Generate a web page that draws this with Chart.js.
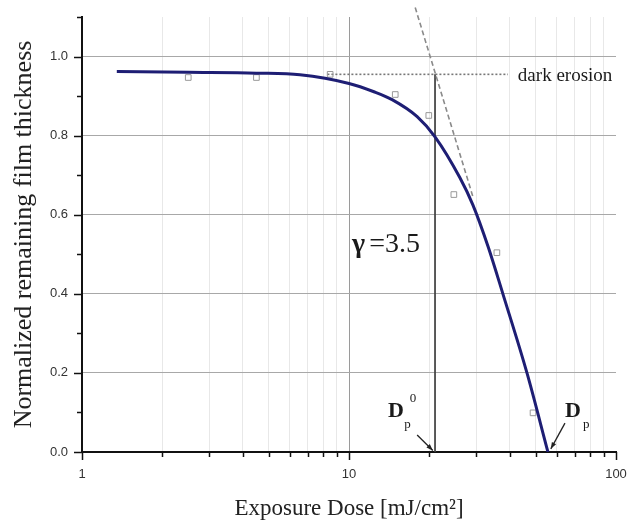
<!DOCTYPE html>
<html><head><meta charset="utf-8">
<script src="https://cdn.jsdelivr.net/npm/chart.js@4"></script>
<style>html,body{margin:0;padding:0;background:#fff}#wrap{width:628px;height:527px}</style>
</head><body><div id="wrap"><canvas id="c" width="628" height="527"></canvas></div>
<script>
// ---- data ----
const doseMeasured = [2.5, 4.5, 8.5, 14.9, 19.9, 24.7, 35.8, 48.9];
const thicknessMeasured = [0.947, 0.947, 0.955, 0.904, 0.851, 0.651, 0.504, 0.099];
const doseFit = [1.35, 2.5, 4.5, 6.55, 10.0, 12.4, 14.5, 18.0, 21.0, 26.0, 29.1, 33.2, 37.7, 46.4, 55.6];
const thicknessFit = [0.962, 0.960, 0.958, 0.954, 0.932, 0.911, 0.891, 0.848, 0.797, 0.694, 0.625, 0.519, 0.40, 0.2, 0.0];
const darkErosionDose = [8.3, 39.4];
const darkErosionLevel = [0.955, 0.955];
const contrastDose = [17.7, 29.1];
const contrastThickness = [1.124, 0.646];
const dp0Dose = [21.0, 21.0];
const dp0Thickness = [0.955, 0.0];
const xTickValues = [1,2,3,4,5,6,7,8,9,10,20,30,40,50,60,70,80,90,100];
const xTickLabels = {1:'1', 10:'10', 100:'100'};
const yTickValues = [0,0.1,0.2,0.3,0.4,0.5,0.6,0.7,0.8,0.9,1.0,1.1];
const yTickLabels = ['0.0','','0.2','','0.4','','0.6','','0.8','','1.0',''];

const pts = (xs, ys) => xs.map((x, i) => ({x, y: ys[i]}));
const isMajorY = v => Math.round(v * 10) % 2 === 0 && v < 1.05;
const isMajorX = v => v === 1 || v === 10 || v === 100;

const annot = {
  id: 'annot',
  afterDraw(chart) {
    const {ctx, scales: {x, y}} = chart;
    const X = v => x.getPixelForValue(v), Y = v => y.getPixelForValue(v);
    const area = chart.chartArea;
    ctx.save();
    // tick marks
    ctx.strokeStyle = '#111';
    ctx.lineWidth = 1.5;
    yTickValues.forEach(v => {
      const py = Math.round(Y(v)) + 0.5, len = isMajorY(v) ? 8 : 5;
      ctx.beginPath(); ctx.moveTo(area.left - len, py); ctx.lineTo(area.left, py); ctx.stroke();
    });
    xTickValues.forEach(v => {
      const px = Math.round(X(v)) + 0.5, len = isMajorX(v) ? 8 : 5;
      ctx.beginPath(); ctx.moveTo(px, area.bottom); ctx.lineTo(px, area.bottom + len); ctx.stroke();
    });
    ctx.fillStyle = '#1a1a1a';
    ctx.textAlign = 'left';
    // dark erosion label
    ctx.font = '19px "Liberation Serif", serif';
    ctx.textBaseline = 'middle';
    ctx.fillText('dark erosion', X(42.9), Y(0.951));
    ctx.textBaseline = 'alphabetic';
    // gamma
    ctx.font = 'bold 28px "Liberation Serif", serif';
    ctx.fillText('γ', X(10.26), Y(0.506));
    ctx.font = '28px "Liberation Serif", serif';
    ctx.fillText('=3.5', X(11.9), Y(0.506));
    // D_p^0 and D_p
    ctx.font = 'bold 22px "Liberation Serif", serif';
    ctx.fillText('D', X(14.0), Y(0.089));
    ctx.fillText('D', X(64.4), Y(0.089));
    ctx.font = '13px "Liberation Serif", serif';
    ctx.fillText('p', X(16.1), Y(0.06));
    ctx.fillText('0', X(16.9), Y(0.127));
    ctx.fillText('p', X(75.2), Y(0.06));
    // arrows
    const arrow = (x1, y1, x2, y2) => {
      const ax = X(x1), ay = Y(y1), bx = X(x2), by = Y(y2);
      ctx.strokeStyle = '#222'; ctx.lineWidth = 1.3;
      ctx.beginPath(); ctx.moveTo(ax, ay); ctx.lineTo(bx, by); ctx.stroke();
      const ang = Math.atan2(by - ay, bx - ax), h = 7, w = 0.35;
      ctx.beginPath();
      ctx.moveTo(bx, by);
      ctx.lineTo(bx - h * Math.cos(ang - w), by - h * Math.sin(ang - w));
      ctx.lineTo(bx - h * Math.cos(ang + w), by - h * Math.sin(ang + w));
      ctx.closePath(); ctx.fillStyle = '#222'; ctx.fill();
    };
    arrow(18.0, 0.043, 20.6, 0.004);
    arrow(64.4, 0.073, 57.0, 0.008);
    ctx.restore();
  }
};

new Chart(document.getElementById('c'), {
  type: 'scatter',
  data: {
    datasets: [
      {label: 'Fit', data: pts(doseFit, thicknessFit), showLine: true, borderColor: '#1e1e74',
       borderWidth: 3, pointRadius: 0, cubicInterpolationMode: 'monotone'},
      {label: 'Measured', data: pts(doseMeasured, thicknessMeasured), showLine: false, pointStyle: 'rect',
       pointRadius: 4, borderColor: '#999999', backgroundColor: 'rgba(255,255,255,0)', borderWidth: 1},
      {label: 'dark erosion', data: pts(darkErosionDose, darkErosionLevel), showLine: true, borderColor: '#777',
       borderWidth: 1.6, borderDash: [2, 2], pointRadius: 0},
      {label: 'contrast', data: pts(contrastDose, contrastThickness), showLine: true, borderColor: '#8a8a8a',
       borderWidth: 1.6, borderDash: [5, 3], pointRadius: 0, clip: false},
      {label: 'Dp0', data: pts(dp0Dose, dp0Thickness), showLine: true, borderColor: '#444',
       borderWidth: 1, pointRadius: 0}
    ]
  },
  options: {
    responsive: false, animation: false,
    layout: {padding: {top: 17, right: 12, left: 0, bottom: 0}},
    plugins: {legend: {display: false}, tooltip: {enabled: false}},
    scales: {
      x: {
        type: 'logarithmic', min: 1, max: 100,
        afterFit: s => { s.height = 75; s.paddingRight = 0; s.paddingLeft = 0; },
        afterBuildTicks: s => { s.ticks = xTickValues.map(v => ({value: v})); },
        border: {color: '#111', width: 2},
        grid: {
          color: c => c.tick && c.tick.value === 10 ? '#9a9a9a' : (c.tick && (c.tick.value === 1 || c.tick.value === 100) ? 'rgba(0,0,0,0)' : '#e8e8e8'),
          lineWidth: 1, tickLength: 8, tickColor: 'rgba(0,0,0,0)'
        },
        ticks: {autoSkip: false, maxRotation: 0, padding: 7, color: '#333',
                font: {family: '"Liberation Sans", Arial, sans-serif', size: 13},
                callback: v => xTickLabels[v] || ''},
        title: {display: true, text: 'Exposure Dose [mJ/cm²]', color: '#222',
                font: {family: '"Liberation Serif", serif', size: 23}, padding: {top: 3, bottom: 4}}
      },
      y: {
        min: 0, max: 1.1,
        afterFit: s => { s.width = 82; },
        afterBuildTicks: s => { s.ticks = yTickValues.map(v => ({value: v})); },
        border: {color: '#111', width: 2},
        grid: {
          color: c => c.tick && isMajorY(c.tick.value) && c.tick.value > 0 ? '#a8a8a8' : 'rgba(0,0,0,0)',
          lineWidth: 1, tickLength: 8, tickColor: 'rgba(0,0,0,0)'
        },
        ticks: {autoSkip: false, padding: 6, color: '#333',
                font: {family: '"Liberation Sans", Arial, sans-serif', size: 13},
                callback: (v, i) => yTickLabels[i]},
        title: {display: true, text: 'Normalized remaining film thickness', color: '#222',
                font: {family: '"Liberation Serif", serif', size: 26}, padding: {top: 9, bottom: 4}}
      }
    }
  },
  plugins: [annot]
});
</script>
</body></html>
